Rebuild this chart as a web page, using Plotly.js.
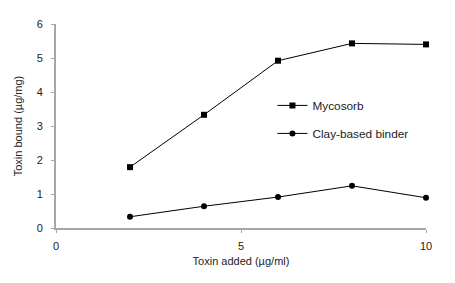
<!DOCTYPE html>
<html>
<head>
<meta charset="utf-8">
<script src="https://cdn.plot.ly/plotly-3.0.1.min.js"></script>
<style>html,body{margin:0;padding:0;background:#fff;}#chart{width:455px;height:283px;}</style>
</head>
<body>
<div id="chart"></div>
<script>
var toxinAdded = [2, 4, 6, 8, 10];
var mycosorb = [1.79, 3.33, 4.92, 5.43, 5.40];
var clayBinder = [0.33, 0.64, 0.91, 1.24, 0.89];
var xTickVals = [0, 5, 10];
var yTickVals = [0, 1, 2, 3, 4, 5, 6];

var font = 'Liberation Sans, Arial, sans-serif';
var traces = [
  {x: toxinAdded, y: mycosorb, name: 'Mycosorb', type: 'scatter', mode: 'lines+markers',
   legendgroup: 'a', cliponaxis: false,
   line: {color: '#000', width: 1}, marker: {symbol: 'square', size: 6, color: '#000'}},
  {x: toxinAdded, y: clayBinder, name: 'Clay-based binder', type: 'scatter', mode: 'lines+markers',
   legendgroup: 'b', cliponaxis: false,
   line: {color: '#000', width: 1}, marker: {symbol: 'circle', size: 6, color: '#000'}}
];
var layout = {
  width: 455, height: 283,
  margin: {l: 56, r: 29, t: 23.5, b: 55},
  paper_bgcolor: '#fff', plot_bgcolor: '#fff',
  font: {family: font, size: 11, color: '#222'},
  showlegend: true,
  legend: {x: 0.585, y: 0.672, xanchor: 'left', yanchor: 'top', bgcolor: 'rgba(0,0,0,0)',
           font: {family: font, size: 11.8, color: '#222'}, traceorder: 'grouped', tracegroupgap: 9},
  xaxis: {range: [0, 10], tickvals: xTickVals, ticktext: xTickVals.map(String),
          showgrid: false, zeroline: false, showline: true, linecolor: '#a6a6a6', linewidth: 2,
          ticks: 'outside', ticklen: 3, tickcolor: '#a6a6a6', tickwidth: 1, ticklabelstandoff: 4,
          title: {text: 'Toxin added (µg/ml)', font: {family: font, size: 11, color: '#222'}, standoff: 6},
          fixedrange: true},
  yaxis: {range: [0, 6], tickvals: yTickVals, ticktext: yTickVals.map(String),
          showgrid: false, zeroline: false, showline: true, linecolor: '#a6a6a6', linewidth: 2,
          ticks: 'outside', ticklen: 3, tickcolor: '#a6a6a6', tickwidth: 1, ticklabelstandoff: 6,
          title: {text: 'Toxin bound (µg/mg)', font: {family: font, size: 11, color: '#222'}, standoff: 12},
          fixedrange: true}
};
Plotly.newPlot('chart', traces, layout, {displayModeBar: false, staticPlot: true});
</script>
</body>
</html>
